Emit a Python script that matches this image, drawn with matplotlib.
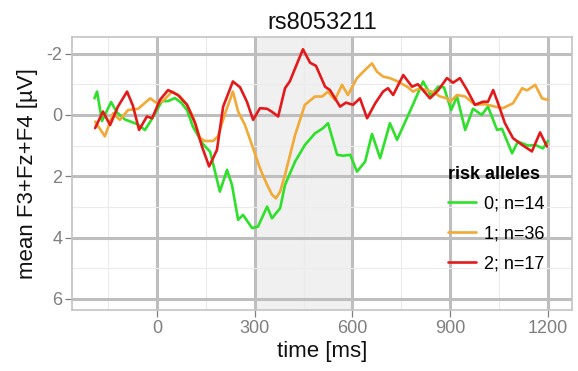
import matplotlib
matplotlib.use("Agg")
import matplotlib.pyplot as plt
from matplotlib.ticker import FixedLocator

plt.rcParams['font.family'] = ['Liberation Sans', 'DejaVu Sans']

title = "rs8053211"
x_label = "time [ms]"
y_label = "mean F3+Fz+F4 [µV]"
legend_title = "risk alleles"
series_labels = ["0; n=14", "1; n=36", "2; n=17"]
x_ticks = [0, 300, 600, 900, 1200]
x_tick_labels = ["0", "300", "600", "900", "1200"]
y_ticks = [-2, 0, 2, 4, 6]
y_tick_labels = ["-2", "0", "2", "4", "6"]
shade_window = [300, 600]

green_t = [-192, -184, -169, -141, -123, -98, -61, -37, -15, 15, 34, 55, 74, 92, 110, 141, 163,
           193, 215, 230, 249, 264, 292, 310, 338, 353, 378, 393, 424, 454, 485, 510, 525, 553,
           571, 593, 614, 639, 660, 685, 715, 737, 780, 817, 841, 863, 881, 903, 921, 946, 970,
           997, 1016, 1044, 1059, 1090, 1108, 1139, 1161, 1185, 1200]
green_v = [-0.54, -0.76, 0.2, -0.42, -0.08, 0.15, 0.3, 0.49, 0.12, -0.45, -0.45, -0.55, -0.4, -0.16,
           0.38, 0.95, 1.2, 2.5, 1.79, 2.28, 3.42, 3.26, 3.69, 3.64, 2.99, 3.37, 3.04, 2.28, 1.52,
           0.98, 0.6, 0.43, 0.27, 1.3, 1.33, 1.3, 1.85, 1.52, 0.62, 1.41, 0.27, 0.81, -0.2, -1.09,
           -0.62, -0.92, -0.9, -0.16, -0.6, 0.49, -0.2, 0.0, -0.27, 0.49, 0.45, 1.25, 0.87, 1.0,
           0.98, 1.09, 0.85]

orange_t = [-190, -160, -135, -114, -89, -58, -21, 0, 18, 46, 71, 92, 110, 132, 147, 172, 187, 209,
            233, 249, 270, 295, 316, 338, 353, 365, 378, 393, 424, 454, 485, 507, 525, 546, 568,
            586, 614, 639, 660, 675, 694, 715, 737, 768, 786, 807, 829, 847, 869, 890, 900, 921,
            946, 976, 1007, 1038, 1062, 1093, 1121, 1136, 1161, 1182, 1200]
orange_v = [0.22, 0.7, -0.05, 0.16, -0.16, -0.2, -0.54, -0.38, -0.45, -0.76, -0.6, -0.33, 0.05, 0.75,
            0.85, 0.85, 0.7, -0.05, -0.76, -0.11, 0.33, 1.09, 1.74, 2.28, 2.6, 2.72, 2.5, 1.95, 0.65,
            -0.33, -0.6, -0.6, -0.76, -0.49, -0.98, -0.65, -1.2, -1.47, -1.68, -1.41, -1.25, -1.2,
            -1.1, -0.92, -0.76, -0.87, -0.8, -0.75, -0.6, -0.54, -0.43, -0.65, -0.6, -0.33, -0.35,
            -0.27, -0.22, -0.38, -0.87, -0.8, -0.98, -0.54, -0.49]

red_t = [-190, -166, -144, -120, -92, -74, -55, -31, -15, 9, 34, 64, 92, 117, 138, 160, 184, 203,
         233, 255, 276, 295, 316, 338, 353, 372, 393, 408, 424, 448, 470, 488, 516, 531, 562, 580,
         602, 623, 645, 670, 694, 709, 725, 756, 783, 801, 838, 863, 890, 909, 930, 952, 976, 1001,
         1016, 1032, 1047, 1068, 1093, 1121, 1151, 1176, 1197]
red_v = [0.43, -0.11, 0.33, -0.27, -0.76, -0.3, 0.49, 0.05, 0.11, -0.49, -0.81, -0.65, -0.33, 0.27,
         1.03, 1.68, 1.14, -0.27, -1.09, -0.9, -0.43, 0.16, -0.22, -0.2, -0.1, 0.05, -0.87, -1.1,
         -1.52, -2.14, -1.7, -1.6, -0.92, -0.81, -0.27, -0.4, -0.33, -0.54, 0.11, -0.38, -0.76,
         -0.87, -0.65, -1.3, -0.92, -1.0, -0.54, -0.8, -1.2, -1.05, -1.2, -0.81, -0.33, -0.43,
         -0.43, -0.81, -0.38, 0.27, 0.76, 0.98, 1.19, 0.57, 1.03]

colors = ["#2EE02A", "#F2A935", "#E31A1C"]

fig = plt.figure(figsize=(5.78, 3.71), dpi=100)
ax = fig.add_axes([72 / 578, 1 - 310 / 371, 500 / 578, 273 / 371])
ax.set_facecolor("white")
ax.set_axisbelow(True)

ax.axvspan(shade_window[0], shade_window[1], color="#F0F0F0", zorder=0.1, lw=0)

for t, v, c, lab in zip([green_t, orange_t, red_t], [green_v, orange_v, red_v], colors, series_labels):
    ax.plot(t, v, color=c, lw=1.9, label=lab, solid_capstyle="round", solid_joinstyle="round", zorder=3)

ax.set_xlim(-261, 1274)
ax.set_ylim(6.36, -2.54)

ax.xaxis.set_major_locator(FixedLocator(x_ticks))
ax.set_xticklabels(x_tick_labels)
ax.yaxis.set_major_locator(FixedLocator(y_ticks))
ax.set_yticklabels(y_tick_labels)
ax.xaxis.set_minor_locator(FixedLocator([-150, 150, 450, 750, 1050]))
ax.yaxis.set_minor_locator(FixedLocator([-1, 1, 3, 5]))

ax.grid(which="major", color="#BEBEBE", lw=2.2)
ax.grid(which="minor", color="#EBEBEB", lw=0.8)

for s in ax.spines.values():
    s.set_color("#C4C4C4")
    s.set_linewidth(1.2)

ax.tick_params(which="major", direction="out", length=5, width=0.9, color="#7F7F7F",
               labelcolor="#7F7F7F", labelsize=13, pad=2)
ax.tick_params(which="minor", length=0)

ax.set_title(title, fontsize=17, color="#111111", pad=6)
ax.set_xlabel(x_label, fontsize=16, color="#111111", labelpad=3)
ax.set_ylabel(y_label, fontsize=16, color="#111111", labelpad=6)

leg = ax.legend(title=legend_title, loc="upper left", bbox_to_anchor=(0.738, 0.555),
                frameon=False, fontsize=13, handlelength=1.55, handletextpad=0.45,
                labelspacing=0.72, borderaxespad=0, alignment="left",
                title_fontproperties={"weight": "bold", "size": 13})
for h in leg.get_lines():
    h.set_linewidth(1.9)

fig.savefig("out.png", dpi=100)
